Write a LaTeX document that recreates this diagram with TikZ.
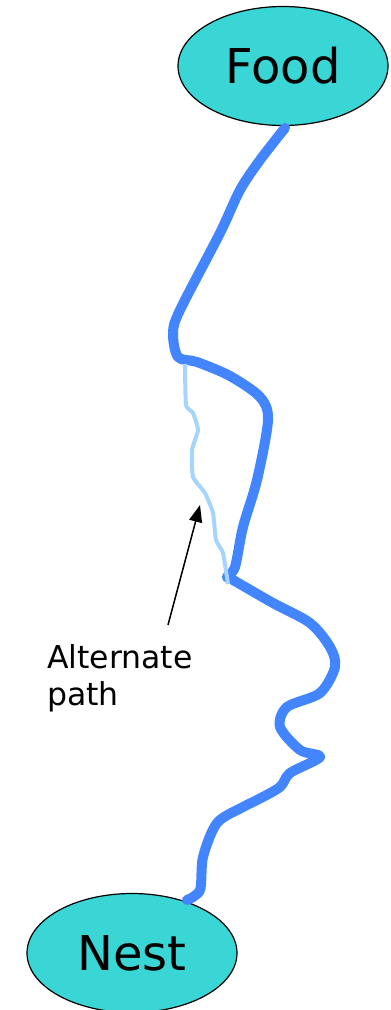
\documentclass[tikz,border=0pt]{standalone}
\usepackage{fontspec}
\setmainfont{DejaVu Sans}
\usetikzlibrary{shapes.geometric,arrows.meta}
\definecolor{nodefill}{RGB}{58,213,213}
\definecolor{mainblue}{RGB}{66,133,255}
\definecolor{lightblue}{RGB}{165,212,255}
\tikzset{
  place/.style={ellipse, draw=black, line width=1.2pt, fill=nodefill, minimum width=210pt, minimum height=119pt, inner sep=0pt, font=\fontsize{48}{52}\selectfont},
  route/.style={draw=mainblue, line width=10pt, line cap=round, line join=round},
  altroute/.style={draw=lightblue, line width=4pt, line join=round},
  pointer/.style={draw=black, line width=1.5pt, -{Triangle[length=17pt, width=13pt]}},
  label/.style={align=left, anchor=north west, inner sep=0pt, font=\fontsize{31.5}{37}\selectfont}
}
\begin{document}
\begin{tikzpicture}[x=1pt, y=-1pt]
\useasboundingbox (0,0) rectangle (391,1010);
\node[place] (food) at (283,66) {Food};
\node[place] (nest) at (132,953) {Nest};
\coordinate (split) at (185,364);
\coordinate (join) at (228,584);
\draw[route] plot[smooth, tension=0.5] coordinates {
 (285,128) (260,160) (240,190) (220,233) (180,310) (173,333) (178,357) (197,362)
 (230,376) (260,397) (268,420) (257,480) (243,527) (235,567) (227,577)
 (233,580) (273,603) (310,623) (330,647) (335,667) (320,693) (287,707)
 (280,727) (300,750) (320,757) (290,773) (280,787) (257,800) (243,807)
 (217,823) (203,857) (200,890) (187,900)};
\draw[altroute] plot[smooth, tension=0.3] coordinates {
 (split) (186,405) (193,413) (198,430) (192,450) (193,477) (205,493)
 (213,513) (216,540) (223,553) (join)};
\node[label] (alt) at (47,644) {Alternate\\path};
\coordinate (tail) at (168,625);
\coordinate (tip) at (200,505);
\draw[pointer] (tail) -- (tip);
\end{tikzpicture}
\end{document}
